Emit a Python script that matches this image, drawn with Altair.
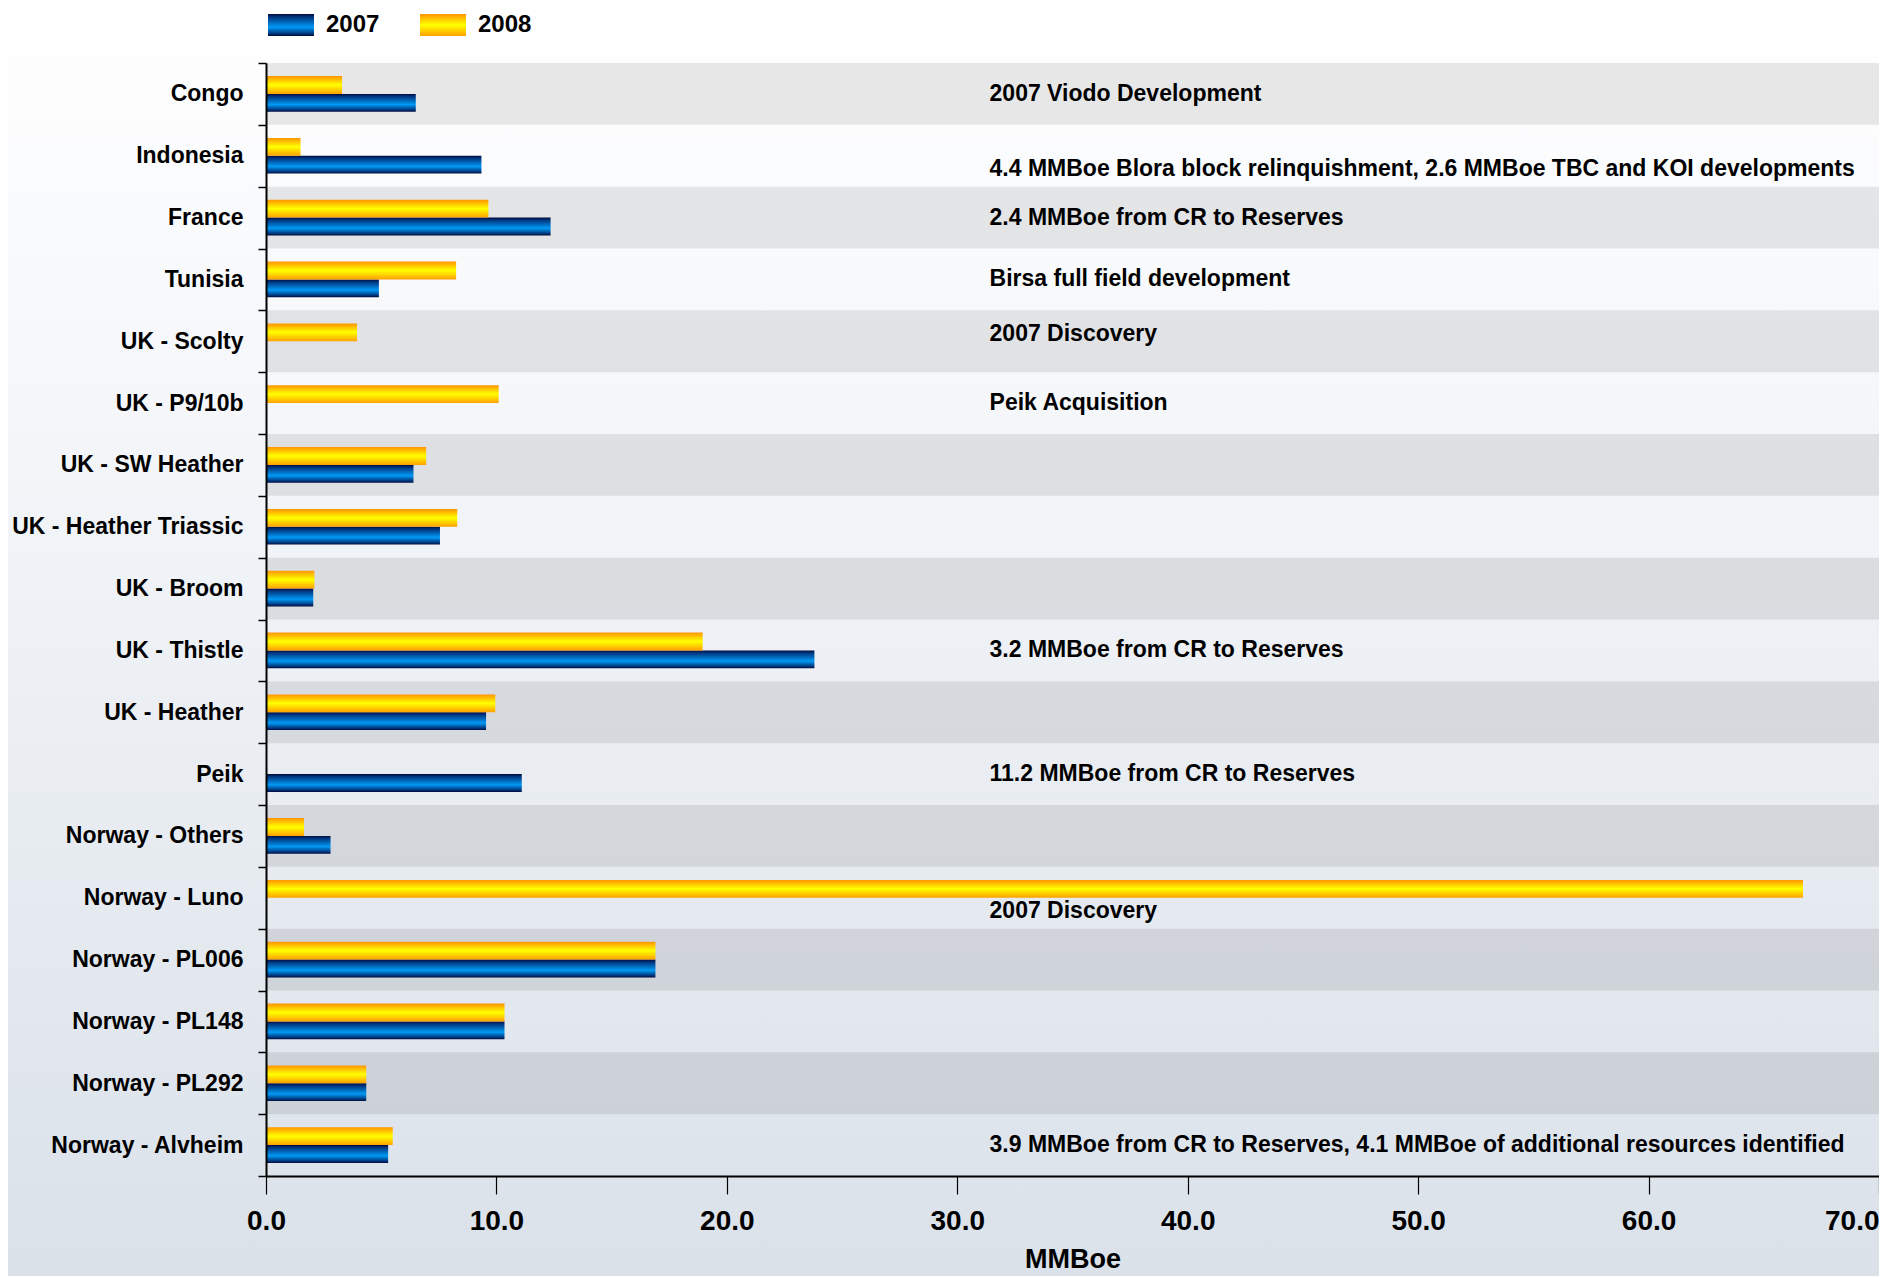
import altair as alt
import pandas as pd

categories = ["Congo", "Indonesia", "France", "Tunisia", "UK - Scolty", "UK - P9/10b",
              "UK - SW Heather", "UK - Heather Triassic", "UK - Broom", "UK - Thistle",
              "UK - Heather", "Peik", "Norway - Others", "Norway - Luno", "Norway - PL006",
              "Norway - PL148", "Norway - PL292", "Norway - Alvheim"]
values_2007 = [6.5, 9.35, 12.35, 4.9, None, None, 6.4, 7.55, 2.05, 23.8,
               9.55, 11.1, 2.8, None, 16.9, 10.35, 4.35, 5.3]
values_2008 = [3.3, 1.5, 9.65, 8.25, 3.95, 10.1, 6.95, 8.3, 2.1, 18.95,
               9.95, None, 1.65, 66.7, 16.9, 10.35, 4.35, 5.5]
years = ["2007", "2008"]
x_ticks = [0, 10, 20, 30, 40, 50, 60, 70]

note_categories = ["Congo", "Indonesia", "France", "Tunisia", "UK - Scolty", "UK - P9/10b",
                   "UK - Thistle", "Peik", "Norway - Luno", "Norway - Alvheim"]
note_texts = ["2007 Viodo Development",
              "4.4 MMBoe Blora block relinquishment, 2.6 MMBoe TBC and KOI developments",
              "2.4 MMBoe from CR to Reserves",
              "Birsa full field development",
              "2007 Discovery",
              "Peik Acquisition",
              "3.2 MMBoe from CR to Reserves",
              "11.2 MMBoe from CR to Reserves",
              "2007 Discovery",
              "3.9 MMBoe from CR to Reserves, 4.1 MMBoe of additional resources identified"]
lowered_notes = ["Indonesia", "Norway - Luno"]
raised_notes = ["UK - Scolty"]

FONT = "Liberation Sans"
W, H = 1613, 1113

rows = []
for c, v7, v8 in zip(categories, values_2007, values_2008):
    if v7 is not None:
        rows.append({"category": c, "year": "2007", "value": v7})
    if v8 is not None:
        rows.append({"category": c, "year": "2008", "value": v8})
bars_df = pd.DataFrame(rows)
bands_df = pd.DataFrame({"category": categories,
                         "shade": ["dark" if i % 2 == 0 else "light" for i in range(len(categories))]})
notes_df = pd.DataFrame({"category": note_categories, "note": note_texts})

y_scale = alt.Scale(domain=categories, paddingInner=0, paddingOuter=0)
y_axis = alt.Axis(title=None, zindex=1, labelFont=FONT, labelFontSize=23,
                  labelFontWeight="bold", labelColor="black", labelPadding=15, labelLimit=400,
                  tickSize=8, tickColor="black", tickWidth=1.5, tickBand="extent",
                  domainColor="black", domainWidth=2)


def y_enc():
    return alt.Y("category:N", scale=y_scale, axis=y_axis)


grad_blue = ("{gradient: 'linear', x1: 0, y1: 0, x2: 0, y2: 1, stops: ["
             "{offset: 0, color: '#000a3a'}, {offset: 0.14, color: '#00357e'}, "
             "{offset: 0.6, color: '#009af5'}, {offset: 0.88, color: '#003a82'}, "
             "{offset: 1, color: '#000a3a'}]}")
grad_gold = ("{gradient: 'linear', x1: 0, y1: 0, x2: 0, y2: 1, stops: ["
             "{offset: 0, color: '#ff9400'}, {offset: 0.5, color: '#ffff00'}, "
             "{offset: 1, color: '#ffa000'}]}")

bg = alt.Chart(pd.DataFrame({"a": [0]})).mark_rect(
    color=alt.Gradient(gradient="linear", x1=0, y1=0, x2=0, y2=1,
                       stops=[alt.GradientStop(offset=0, color="#ffffff"),
                              alt.GradientStop(offset=0.3, color="#f5f7fa"),
                              alt.GradientStop(offset=1, color="#dae1e9")])
).encode(x=alt.value(-260), x2=alt.value(W + 10), y=alt.value(-60), y2=alt.value(H + 110))

bands = alt.Chart(bands_df).transform_filter(alt.datum.shade == "dark").mark_rect(
    color="#000000", opacity=0.085
).encode(y=y_enc(), x=alt.value(0), x2=alt.value(W))

bars = alt.Chart(bars_df).mark_bar().encode(
    x=alt.X("value:Q", scale=alt.Scale(domain=[0, 70], nice=False),
            axis=alt.Axis(title="MMBoe", values=x_ticks, format=".1f", grid=False, zindex=1,
                          labelFont=FONT, labelFontSize=28, labelFontWeight="bold",
                          labelColor="black", labelFlush=False, labelPadding=13,
                          labelAlign={"expr": "datum.value == 70 ? 'right' : 'center'"},
                          tickSize=18, tickColor="black", tickWidth=1.2,
                          domainColor="black", domainWidth=2,
                          titleFont=FONT, titleFontSize=27, titleFontWeight="bold",
                          titleColor="black", titlePadding=11)),
    y=y_enc(),
    yOffset=alt.YOffset("year:N", sort=["2008", "2007"],
                        scale=alt.Scale(paddingInner=0, paddingOuter=0.73)),
    color=alt.Color("year:N",
                    scale=alt.Scale(domain=years, range=[{"expr": grad_blue}, {"expr": grad_gold}]),
                    legend=alt.Legend(title=None, orient="none", legendX=2, legendY=-61,
                                      direction="horizontal",
                                      symbolType="M-1,-0.48H1V0.48H-1Z", symbolSize=2116,
                                      symbolStrokeWidth=0, labelFont=FONT, labelFontSize=24,
                                      labelFontWeight="bold", labelColor="black",
                                      labelOffset=12, columnPadding=40)),
)

note_base = alt.Chart(notes_df)
note_kw = dict(align="left", baseline="middle", font=FONT, fontSize=23, fontWeight="bold", color="black")
notes_mid = note_base.transform_filter(
    ~alt.FieldOneOfPredicate(field="category", oneOf=lowered_notes + raised_notes)
).mark_text(**note_kw).encode(y=y_enc(), x=alt.datum(31.4), text="note:N")
notes_low = note_base.transform_filter(
    alt.FieldOneOfPredicate(field="category", oneOf=lowered_notes)
).mark_text(dy=13, **note_kw).encode(y=y_enc(), x=alt.datum(31.4), text="note:N")
notes_high = note_base.transform_filter(
    alt.FieldOneOfPredicate(field="category", oneOf=raised_notes)
).mark_text(dy=-7, **note_kw).encode(y=y_enc(), x=alt.datum(31.4), text="note:N")

chart = alt.layer(bg, bands, bars, notes_mid, notes_low, notes_high).properties(
    width=W, height=H,
    autosize=alt.AutoSizeParams(type="none"),
    padding={"left": 258, "top": 55, "right": 0, "bottom": 100},
).configure_view(strokeWidth=0)

chart.save("out.html", embed_options={"renderer": "svg", "actions": False})
